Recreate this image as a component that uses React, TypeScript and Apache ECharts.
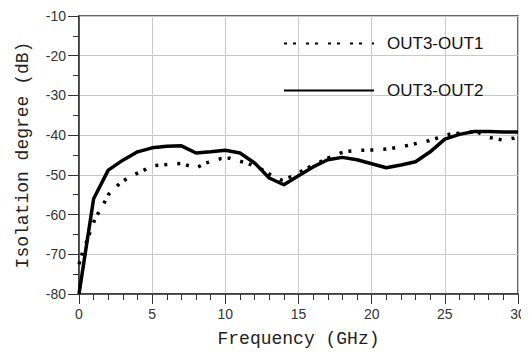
import React, { useEffect, useRef } from "react";
import * as echarts from "echarts";

// Frequency sweep points (GHz) and isolation (dB) for each port pair
const freqOut1 = [0, 0.2, 0.9, 1.1, 1.7, 2, 2.8, 3.4, 4.4, 5, 6, 7, 8, 8.6, 9.7, 10.3, 11.5, 12.3, 13, 13.8, 14.9, 15.3, 16.4, 17, 18.1, 18.8, 20.2, 21, 22.1, 23.9, 25.4, 27.2, 27.8, 28.9, 29.7, 30];
const isoOut1 = [-72.5, -70, -63, -61, -57.2, -55, -52.1, -50.6, -48.9, -47.7, -47.4, -47.1, -48.3, -47.1, -45.9, -45.8, -47.1, -48.2, -49.8, -51.3, -50, -48.8, -46.9, -45.8, -44.2, -43.9, -43.7, -43.5, -42.9, -41.4, -39.7, -39.1, -40.4, -41.2, -40.8, -40.5];

const freqOut2 = [0, 1, 2, 3, 4, 5, 6, 7, 8, 9, 10, 11, 12, 13, 14, 15, 16, 17, 18, 19, 20, 21, 22, 23, 24, 25, 26, 27, 28, 29, 30];
const isoOut2 = [-80, -56, -48.8, -46.3, -44.2, -43.2, -42.8, -42.7, -44.5, -44.2, -43.8, -44.5, -47, -50.8, -52.5, -50.2, -48, -46.2, -45.6, -46.2, -47.2, -48.2, -47.5, -46.7, -44.2, -41, -39.8, -39.1, -39.1, -39.2, -39.2];

const seriesNames = ["OUT3-OUT1", "OUT3-OUT2"];
const xTitle = "Frequency (GHz)";
const yTitle = "Isolation degree (dB)";

const pairs = (xs: number[], ys: number[]) => xs.map((x, i) => [x, ys[i]]);

export default function App() {
  const ref = useRef<HTMLDivElement>(null);

  useEffect(() => {
    if (!ref.current) return;
    const chart = echarts.init(ref.current, undefined, { renderer: "svg" });
    const axisColor = "#333";
    const labelFont = {
      fontFamily: "Liberation Sans, Arial, sans-serif",
      fontSize: 14,
      color: "#333",
    };
    const titleFont = {
      fontFamily: "Liberation Mono, monospace",
      fontSize: 18,
      color: "#222",
    };
    chart.setOption({
      animation: false,
      backgroundColor: "#fff",
      grid: {
        left: 79,
        right: 11,
        top: 16,
        bottom: 64,
        show: true,
        borderColor: axisColor,
        borderWidth: 1.5,
      },
      legend: {
        orient: "vertical",
        left: 283,
        top: 35,
        padding: 0,
        itemWidth: 90,
        itemHeight: 14,
        itemGap: 30,
        itemStyle: { color: "rgba(0,0,0,0)", borderWidth: 0 },
        textStyle: {
          fontFamily: "Liberation Sans, Arial, sans-serif",
          fontSize: 17,
          color: "#111",
          padding: [0, 0, 0, 8],
        },
        data: seriesNames,
      },
      xAxis: {
        type: "value",
        min: 0,
        max: 30,
        interval: 5,
        name: xTitle,
        nameLocation: "middle",
        nameGap: 36,
        nameTextStyle: titleFont,
        axisLine: { show: true, lineStyle: { color: axisColor, width: 1.5 } },
        axisTick: { show: true, length: 10, lineStyle: { color: axisColor } },
        minorTick: { show: true, splitNumber: 5, length: 6, lineStyle: { color: axisColor } },
        axisLabel: { ...labelFont, margin: 13 },
        splitLine: { show: true, lineStyle: { color: "#c8c8c8", width: 1 } },
      },
      yAxis: {
        type: "value",
        min: -80,
        max: -10,
        interval: 10,
        name: yTitle,
        nameLocation: "middle",
        nameGap: 47,
        nameRotate: 90,
        nameTextStyle: titleFont,
        axisLine: { show: true, lineStyle: { color: axisColor, width: 1.5 } },
        axisTick: { show: true, length: 11, lineStyle: { color: axisColor } },
        minorTick: { show: true, splitNumber: 2, length: 6, lineStyle: { color: axisColor } },
        axisLabel: { ...labelFont, margin: 13 },
        splitLine: { show: true, lineStyle: { color: "#c8c8c8", width: 1 } },
      },
      series: [
        {
          name: seriesNames[0],
          type: "line",
          data: pairs(freqOut1, isoOut1),
          symbol: "none",
          color: "#000",
          lineStyle: { color: "#000", width: 3.5, type: [3, 6, 3, 10] },
          z: 3,
        },
        {
          name: seriesNames[1],
          type: "line",
          data: pairs(freqOut2, isoOut2),
          symbol: "none",
          color: "#000",
          lineStyle: { color: "#000", width: 3.5, type: "solid" },
          z: 4,
        },
      ],
    });
    return () => chart.dispose();
  }, []);

  return <div ref={ref} style={{ width: 529, height: 358, marginLeft: -8, marginTop: -8 }} />;
}
